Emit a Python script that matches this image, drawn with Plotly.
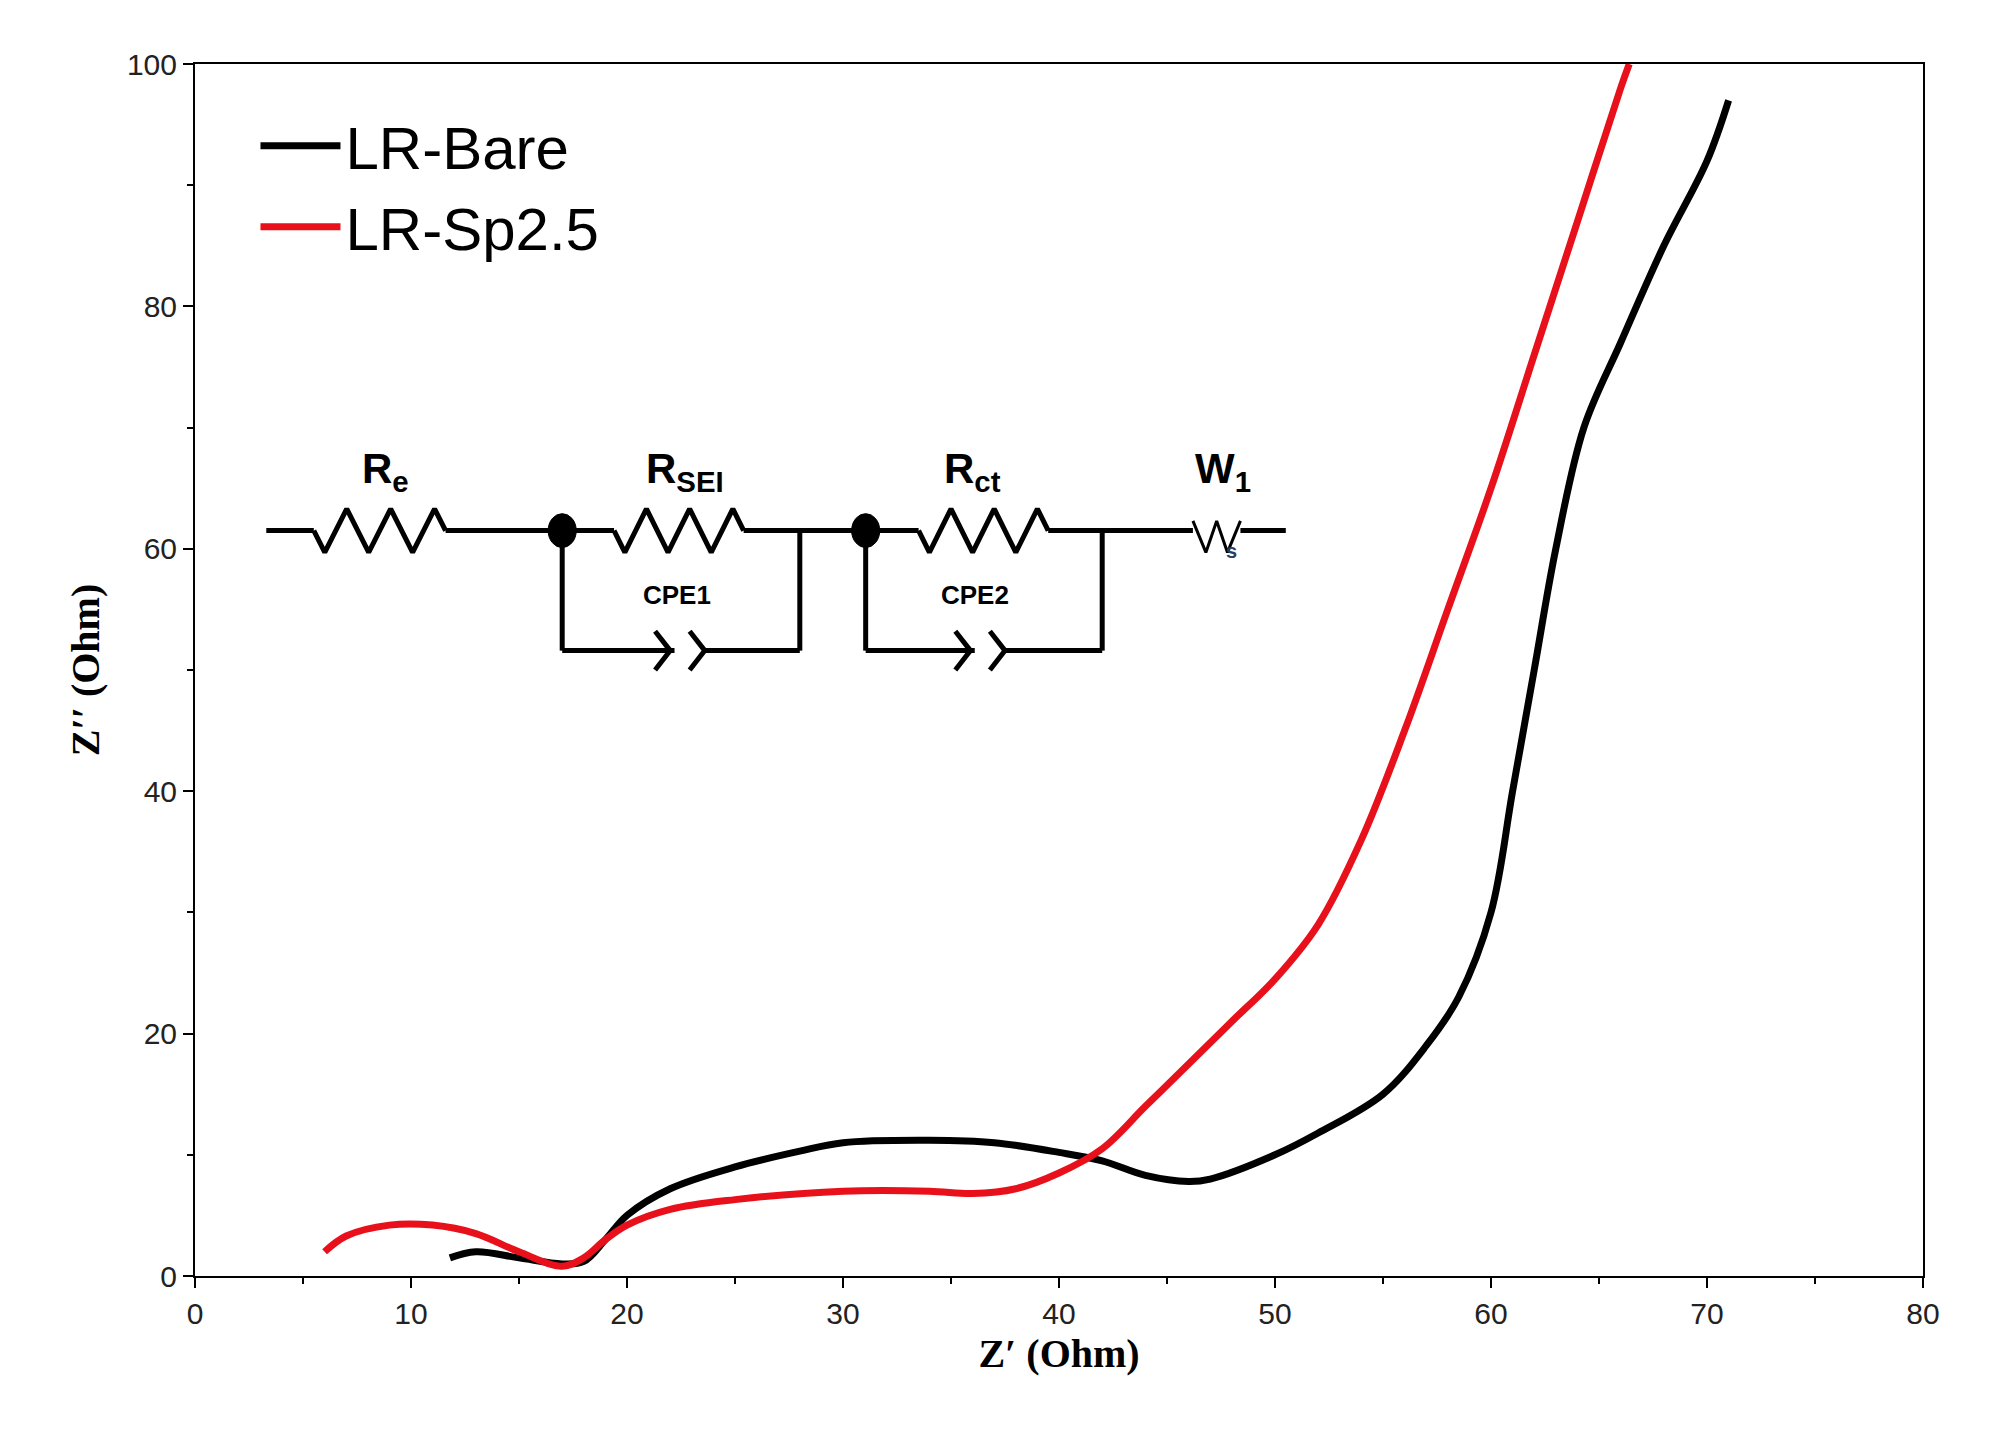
import plotly.graph_objects as go

# LR-Bare
bare_x = [11.8, 13, 15, 17, 18, 19, 20, 22, 25, 28, 30, 34, 37, 40, 42, 44, 46, 47, 50, 52, 55, 57, 58.5, 60, 61, 62, 63, 64.3, 66, 68, 70, 71]
bare_y = [1.5, 2, 1.5, 1, 1.2, 3, 5, 7.2, 9, 10.3, 11, 11.2, 11, 10.2, 9.5, 8.3, 7.8, 8, 10, 11.8, 15, 19, 23, 30, 40, 50, 60, 70, 77, 85, 92, 97]
# LR-Sp2.5
sp_x = [6, 7, 9, 11, 13, 15, 17, 18, 19, 20, 22, 25, 30, 34, 36, 38, 40, 42, 44, 46, 48, 50, 52, 54, 56, 58, 60, 62, 64, 66, 66.4]
sp_y = [2, 3.3, 4.2, 4.2, 3.5, 2, 0.8, 1.5, 3, 4.2, 5.5, 6.3, 7, 7, 6.8, 7.2, 8.5, 10.5, 14, 17.5, 21, 24.5, 29, 36, 45, 55, 65, 76, 87, 98, 100]

fig = go.Figure()
fig.add_trace(go.Scatter(x=bare_x, y=bare_y, mode="lines", name="LR-Bare",
                         line=dict(color="black", width=7, shape="spline")))
fig.add_trace(go.Scatter(x=sp_x, y=sp_y, mode="lines", name="LR-Sp2.5",
                         line=dict(color="#e8101a", width=7, shape="spline")))

# equivalent circuit drawing
wy = 61.5
box_y = 51.6
lw = dict(color="black", width=5)

def zigzag(x0, x1, y, amp=1.8, n=3):
    xs, ys = [x0], [y]
    step = (x1 - x0) / (2 * n)
    for i in range(2 * n):
        xs.append(x0 + step * (i + 0.5))
        ys.append(y + (-amp if i % 2 == 0 else amp))
    xs.append(x1); ys.append(y)
    return xs, ys

segs = [(3.3, 5.5), (11.6, 19.4), (25.4, 33.5), (39.5, 46.2), (48.4, 50.5)]
for a, b in segs:
    fig.add_shape(type="line", x0=a, x1=b, y0=wy, y1=wy, line=lw)
for a, b in [(5.5, 11.6), (19.4, 25.4), (33.5, 39.5)]:
    zx, zy = zigzag(a, b, wy)
    fig.add_trace(go.Scatter(x=zx, y=zy, mode="lines", line=lw, showlegend=False, hoverinfo="skip"))
# Warburg element
fig.add_trace(go.Scatter(x=[46.2, 46.8, 47.3, 47.8, 48.4], y=[wy + 0.8, wy - 1.8, wy + 0.8, wy - 1.8, wy + 0.8],
                         mode="lines", line=dict(color="black", width=3), showlegend=False, hoverinfo="skip"))
for nx, rx, c1 in [(17.0, 28.0, 21.3), (31.05, 42.0, 35.2)]:
    fig.add_shape(type="line", x0=nx, x1=nx, y0=wy, y1=box_y, line=lw)
    fig.add_shape(type="line", x0=rx, x1=rx, y0=wy, y1=box_y, line=lw)
    fig.add_shape(type="line", x0=nx, x1=c1 + 0.9, y0=box_y, y1=box_y, line=lw)
    fig.add_shape(type="line", x0=c1 + 2.2, x1=rx, y0=box_y, y1=box_y, line=lw)
    for cx in (c1, c1 + 1.6):
        fig.add_trace(go.Scatter(x=[cx, cx + 0.7, cx], y=[box_y + 1.6, box_y, box_y - 1.6], mode="lines",
                                 line=lw, showlegend=False, hoverinfo="skip"))
    fig.add_shape(type="circle", x0=nx - 0.65, x1=nx + 0.65, y0=wy - 1.4, y1=wy + 1.4,
                  fillcolor="black", line=dict(color="black", width=1))

lab_font = dict(family="Liberation Sans", size=42, color="black")
for tx, txt in [(8.8, "<b>R<sub>e</sub></b>"), (22.7, "<b>R<sub>SEI</sub></b>"),
                (36.0, "<b>R<sub>ct</sub></b>"), (47.6, "<b>W<sub>1</sub></b>")]:
    fig.add_annotation(x=tx, y=66.4, text=txt, showarrow=False, font=lab_font)
fig.add_annotation(x=48.0, y=59.8, text="<b>s</b>", showarrow=False, font=dict(family="Liberation Sans", size=20))
for tx, txt in [(22.3, "<b>CPE1</b>"), (36.1, "<b>CPE2</b>")]:
    fig.add_annotation(x=tx, y=56.2, text=txt, showarrow=False,
                       font=dict(family="Liberation Sans", size=26, color="black"))

tick_font = dict(family="Liberation Sans", size=30, color="#222")
title_font = dict(family="Liberation Serif", size=40, color="black")
fig.update_layout(
    width=2007, height=1440, paper_bgcolor="white", plot_bgcolor="white",
    margin=dict(l=187, r=92, t=56, b=172),
    legend=dict(x=0.035, y=0.97, xanchor="left", yanchor="top", bgcolor="rgba(0,0,0,0)",
                font=dict(family="Liberation Sans", size=60, color="black"), itemwidth=80),
    xaxis=dict(range=[0, 80], dtick=10, showline=True, linecolor="black", linewidth=2, mirror=True,
               ticks="outside", ticklen=10, tickwidth=2, tickcolor="black", showgrid=False, zeroline=False,
               minor=dict(dtick=5, ticks="outside", ticklen=6, tickcolor="black"),
               tickfont=tick_font,
               title=dict(text="<b>Z′ (Ohm)</b>", font=title_font, standoff=10)),
    yaxis=dict(range=[0, 100], dtick=20, showline=True, linecolor="black", linewidth=2, mirror=True,
               ticks="outside", ticklen=10, tickwidth=2, tickcolor="black", showgrid=False, zeroline=False,
               minor=dict(dtick=10, ticks="outside", ticklen=6, tickcolor="black"),
               tickfont=tick_font,
               title=dict(text="<b>Z′′ (Ohm)</b>", font=title_font, standoff=15)),
)
fig.write_html("out.html")
